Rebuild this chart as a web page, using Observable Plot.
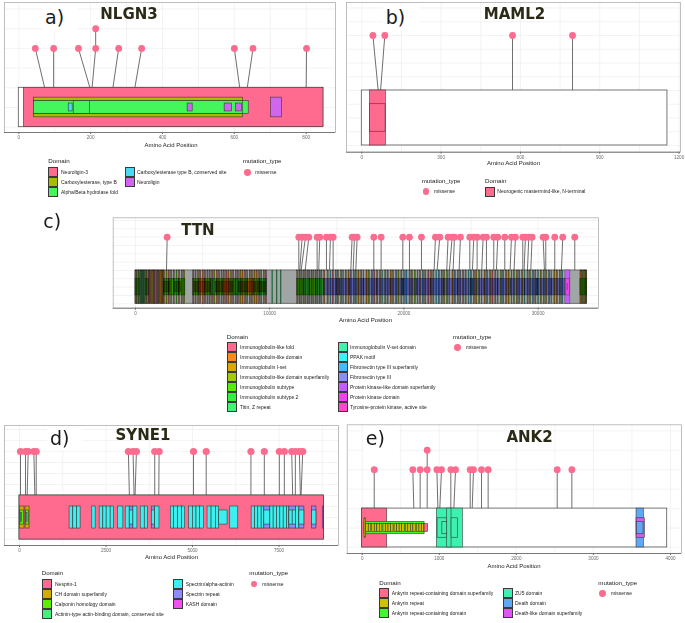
<!DOCTYPE html>
<html><head><meta charset="utf-8">
<script src="https://cdn.jsdelivr.net/npm/d3@7"></script>
<script src="https://cdn.jsdelivr.net/npm/@observablehq/plot@0.6"></script>
<style>
body{margin:0;background:#fff;}
#page{position:relative;width:685px;height:623px;overflow:hidden;background:#fff;font-family:"Liberation Sans",Arial,sans-serif;}
.t{position:absolute;white-space:nowrap;line-height:1;color:#222;}
.sw{position:absolute;width:8px;height:8px;border:1px solid #3a3a3a;}
.pt{position:absolute;border-radius:50%;}
</style></head><body><div id="page"></div>
<script>
// ---------------- DATA ----------------
// Panel a: NLGN3
const nlgLength = 848;
const nlgNames = ["Neuroligin-3","Carboxylesterase, type B","Alpha/Beta hydrolase fold","Carboxylesterase type B, conserved site","Neuroligin"];
const nlgColors = ["#ff6b8f","#a8bc00","#44f55c","#49d9f2","#d066f0"];
// [domain index, start, end, nesting level]
const nlgDomains = [[0,14,848,0],[1,42,624,1],[2,42,640,2],[2,42,624,2],[2,153,198,2],[3,139,150,3],[4,470,484,3],[4,573,594,3],[4,604,621,3],[4,702,733,1]];
const nlgPos   = [72, 97, 198, 204, 204, 262, 323, 615, 636, 800];
const nlgHead  = [46, 97, 166, 214, 214, 278, 342, 600, 652, 801];
const nlgStack = [0,0,0,0,1,0,0,0,0,0];
const nlgTicks = [0,200,400,600,800];

// Panel b: MAML2
const mamLength = 1156;
const mamNames = ["Neurogenic mastermind-like, N-terminal"];
const mamColors = ["#ff6b8f"];
const mamDomains = [[0,31,91,0],[0,31,90,1]];
const mamPos   = [62, 71, 570, 797];
const mamHead  = [42, 87, 570, 797];
const mamStack = [0,0,0,0];
const mamTicks = [0,300,600,900,1200];

// Panel c: TTN
const ttnLength = 33650;
const ttnNames = ["Immunoglobulin-like fold","Immunoglobulin-like domain","Immunoglobulin I-set","Immunoglobulin-like domain superfamily","Immunoglobulin subtype","Immunoglobulin subtype 2","Titin, Z repeat","Immunoglobulin V-set domain","PPAK motif","Fibronectin type III superfamily","Fibronectin type III","Protein kinase-like domain superfamily","Protein kinase domain","Tyrosine-protein kinase, active site"];
const ttnColors = ["#ff6b8f","#ff8c1a","#d8aa00","#a2cc00","#55ee00","#33f040","#44f27a","#3df2aa","#3df0f5","#40beff","#8c8cff","#c45cff","#ee44ee","#ff48c8"];
const ttnDomains = [
[3,0,110,0],[1,120,240,0],[4,250,365,0],
[6,378,420,0],[6,428,470,0],[6,478,520,0],[6,528,570,0],[6,578,620,0],[6,628,670,0],[6,678,740,0],
[2,752,860,0],[1,868,990,0],
[0,1000,1085,0],[1,1095,1175,0],[0,1190,1265,0],[2,1290,1370,0],[0,1385,1460,0],[1,1475,1560,0],[0,1580,1650,0],[3,1665,1745,0],[0,1770,1840,0],[1,1860,1940,0],[0,1955,2030,0],[2,2040,2105,0],
[1,2130,2200,0],[3,2310,2385,0],[0,2470,2550,0],[2,2660,2735,0],[1,2840,2925,0],[4,3060,3130,0],[0,3240,3320,0],[1,3440,3525,0],[3,3610,3700,0],
[4,0,365,1],[4,760,990,1],[5,2110,2480,1],[4,2480,2850,1],[5,2850,3240,1],[4,3240,3720,1],[2,2120,2600,2],[2,2900,3400,2],
[0,4300,4385,0],[1,4470,4550,0],[2,4660,4735,0],[0,4810,4895,0],[1,5010,5085,0],[0,5170,5250,0],[2,5360,5440,0],[1,5520,5600,0],[0,5710,5790,0],[3,5870,5950,0],[1,6060,6140,0],[0,6220,6300,0],[2,6410,6490,0],[1,6570,6650,0],[0,6760,6840,0],[1,6920,7000,0],[2,7110,7190,0],[0,7270,7350,0],[1,7460,7540,0],[0,7620,7700,0],[2,7810,7890,0],[1,7970,8050,0],[0,8160,8240,0],[3,8320,8400,0],[1,8510,8590,0],[0,8670,8750,0],[2,8860,8940,0],[1,9020,9100,0],[0,9210,9290,0],[2,9370,9450,0],[1,9560,9640,0],[0,9710,9800,0],
[4,4300,4750,1],[2,4750,5200,1],[4,5200,5650,1],[5,5650,6100,1],[4,6100,6550,1],[2,6550,7000,1],[4,7000,7450,1],[5,7450,7900,1],[4,7900,8350,1],[2,8350,8800,1],[4,8800,9250,1],[5,9250,9800,1],
[1,4400,5600,2],[1,6000,7300,2],[1,7700,9000,2],[1,9100,9700,2],
[6,10200,10260,0],[6,10520,10580,0],[6,10820,10880,0],
[1,12050,12130,0],[0,12210,12285,0],[3,12350,12430,0],[2,12510,12585,0],[1,12650,12730,0],[4,12810,12885,0],[0,12950,13030,0],[1,13110,13185,0],[3,13250,13330,0],[2,13410,13485,0],[1,13550,13630,0],[0,13710,13785,0],[4,13850,13930,0],
[4,12050,12520,1],[5,12520,12990,1],[4,12990,13460,1],[5,13460,14020,1],
[10,14030,15000,1],[10,15000,16000,1],[10,16000,17000,1],[10,17000,18000,1],[10,18000,19000,1],[10,19000,20000,1],[10,20000,21000,1],[10,21000,22000,1],[10,22000,23000,1],[10,23000,24000,1],[10,24000,25000,1],[10,25000,26000,1],[10,26000,27000,1],[10,27000,28000,1],[10,28000,29000,1],[10,29000,30000,1],[10,30000,31000,1],[10,31000,32030,1],
[1,14060,14140,0],[2,14310,14390,0],[8,14530,14590,0],[0,14690,14770,0],[9,14920,15000,0],[1,15070,15150,0],[3,15320,15400,0],[8,15480,15540,0],[2,15660,15740,0],[1,15870,15950,0],[10,16040,16120,0],[9,16260,16340,0],[4,16410,16490,0],[1,16610,16690,0],[2,16820,16900,0],[8,16990,17050,0],[1,17210,17290,0],[3,17380,17460,0],[9,17610,17690,0],[0,17790,17870,0],[2,18010,18090,0],[1,18220,18300,0],[8,18390,18450,0],[4,18610,18690,0],[9,18780,18860,0],[1,19010,19090,0],[2,19190,19270,0],[10,19420,19500,0],[3,19590,19670,0],[1,19810,19890,0],[8,20010,20070,0],[9,20180,20260,0],[2,20420,20500,0],[1,20590,20670,0],[4,20810,20890,0],[8,21020,21080,0],[1,21190,21270,0],[9,21410,21490,0],[2,21590,21670,0],[0,21820,21900,0],[1,22010,22090,0],[3,22190,22270,0],[8,22420,22480,0],[9,22590,22670,0],[1,22810,22890,0],[2,22990,23070,0],[4,23210,23290,0],[8,23390,23450,0],[1,23620,23700,0],[9,23790,23870,0],[2,24010,24090,0],[10,24190,24270,0],[1,24410,24490,0],[3,24590,24670,0],[8,24820,24880,0],[9,24990,25070,0],[1,25210,25290,0],[2,25390,25470,0],[4,25610,25690,0],[8,25790,25850,0],[1,26010,26090,0],[9,26190,26270,0],[2,26420,26500,0],[0,26590,26670,0],[1,26810,26890,0],[8,26990,27050,0],[3,27220,27300,0],[9,27390,27470,0],[1,27610,27690,0],[2,27790,27870,0],[8,28020,28080,0],[4,28190,28270,0],[1,28410,28490,0],[9,28590,28670,0],[2,28810,28890,0],[8,28990,29050,0],[1,29210,29290,0],[3,29390,29470,0],[9,29610,29690,0],[1,29790,29870,0],[8,30010,30070,0],[2,30190,30270,0],[4,30410,30490,0],[1,30590,30670,0],[9,30810,30890,0],[8,30990,31050,0],[2,31210,31290,0],[1,31390,31470,0],[3,31610,31690,0],[9,31790,31870,0],
[7,15200,15260,1],[7,19900,19960,1],[7,25100,25160,1],[7,29900,29960,1],
[1,33150,33230,0],[4,33260,33340,0],[2,33370,33450,0],[1,33480,33560,0],[3,33570,33640,0],[4,33150,33640,1]
];
const ttnKinase = [[11,32031,32403,0],[12,32080,32350,1],[13,32190,32230,3]];
const ttnHead = [2359,12167,12417,12665,12914,13533,13731,14228,14526,14725,16141,16315,16514,17755,18301,19915,20412,21306,22349,22671,23291,23590,23763,24210,24906,25204,25452,25899,26147,26693,26991,27513,28010,28308,28855,29053,29302,29550,30369,30568,31238,31834,32728];
const ttnPos  = [2309,12167,12240,12340,12640,13533,13650,14228,14450,14725,16041,16215,16414,17755,18301,19915,20412,21306,22249,22471,23191,23390,23663,24110,24906,25104,25452,25799,26147,26693,26891,27513,27910,28208,28855,28953,29202,29450,30469,30568,31238,31734,32728];
const ttnStack = ttnHead.map(() => 0);
const ttnTicks = [0,10000,20000,30000];

// Panel d: SYNE1
const syneLength = 8797;
const syneNames = ["Nesprin-1","CH domain superfamily","Calponin homology domain","Actinin-type actin-binding domain, conserved site","Spectrin/alpha-actinin","Spectrin repeat","KASH domain"];
const syneColors = ["#ff6b8f","#d4aa00","#5cf000","#44f27a","#3df0f0","#8c8cff","#f050f0"];
const syneDomains = [
[0,0,8797,0],[1,10,145,1],[1,174,290,1],[2,25,135,2],[2,185,280,2],[3,40,70,3],[3,200,230,3],
[4,1448,1554,1],[4,1554,1660,1],[4,1660,1767,1],[4,2104,2201,1],
[4,2317,2423,1],[4,2423,2519,1],[4,2519,2635,1],[4,2635,2732,1],[4,2848,3002,1],
[4,3070,3186,1],[5,3186,3292,1],[4,3186,3292,2],[4,3292,3408,1],
[4,3504,3620,1],[4,3620,3716,1],[5,3823,3919,1],[4,3823,3919,2],[4,3919,4045,1],
[4,4373,4470,1],[4,4470,4585,1],[4,4585,4701,1],[4,4701,4788,1],
[4,4904,5010,1],[4,5010,5116,1],[4,5116,5222,1],[4,5222,5338,1],
[4,5435,5551,1],[4,5551,5676,1],[4,5676,5773,1],[4,5773,6014,2],[4,6091,6323,1],
[4,6709,6806,1],[4,6806,6902,1],[4,6902,6999,1],[4,6999,7076,1],[5,7076,7250,1],[4,7076,7250,2],
[4,7250,7346,1],[4,7346,7443,1],[4,7443,7539,1],[4,7539,7636,1],[4,7636,7732,1],[4,7732,7800,1],
[5,7800,7993,1],[4,7800,7896,2],[4,7896,7993,2],[4,7993,8089,1],[5,8089,8234,1],[4,8089,8234,2],
[5,8456,8582,1],[4,8456,8582,2],[6,8765,8797,1]
];
const synePos  = [29,174,222,444,483,3176,3311,3340,3909,4026,5029,5396,6689,7076,7510,7655,7896,7973,8118,8138];
const syneHead = [29,174,251,415,483,3147,3282,3379,3909,4035,5029,5396,6689,7076,7510,7655,7867,7973,8089,8186];
const syneStack = syneHead.map(() => 0);
const syneTicks = [0,2500,5000,7500];

// Panel e: ANK2
const ankLength = 3957;
const ankNames = ["Ankyrin repeat-containing domain superfamily","Ankyrin repeat","Ankyrin repeat-containing domain","ZU5 domain","Death domain","Death-like domain superfamily"];
const ankColors = ["#ff6b8f","#cfc000","#44f530","#3df2b0","#5fa8f5","#dd55f2"];
const ankDomains = [
[0,0,324,0],[2,30,809,2],[1,30,50,1],
[1,52,85,3],[1,85,118,3],[1,130,163,3],[1,163,196,3],[1,196,229,3],[1,229,262,3],[1,275,308,3],[1,308,341,3],[1,341,374,3],[1,374,407,3],[1,420,453,3],[1,453,486,3],[1,486,519,3],[1,519,552,3],[1,565,598,3],[1,598,631,3],[1,631,664,3],[1,664,697,3],[1,710,743,3],[1,743,776,3],[1,776,805,3],
[0,809,856,3],
[3,969,1306,0],[3,1103,1159,0],[3,978,1103,1],[3,1040,1103,2],[3,1159,1245,1],
[4,3559,3654,0],[5,3559,3667,1],[4,3565,3650,2]
];
const ankPos   = [156,670,752,843,843,982,1007,1150,1189,1401,1427,1548,1634,2530,2720];
const ankHead  = [156,657,752,843,843,969,1029,1150,1211,1401,1444,1548,1634,2530,2720];
const ankStack = [0,0,0,0,1,0,0,0,0,0,0,0,0,0,0];
const ankTicks = [0,1000,2000,3000,4000];

// ---------------- DRAWING ----------------
const page = document.getElementById("page");
const HEAD = "#fd6b8e";
const LEVELS = [[0,2],[0.5,1.5],[0.68,1.32],[0.8,1.2]];
const FONT = "Liberation Sans, Arial, sans-serif";

function rng(a, b, s) { const o = []; for (let v = a; v <= b + 1e-9; v += s) o.push(+v.toFixed(3)); return o; }

function panel(cfg) {
  const muts = cfg.pos.map((p, i) => ({pos: p, head: cfg.head[i], stack: cfg.stack[i]}));
  const rects = (data, blend) => Plot.rect(data, {
    x1: d => d[1], x2: d => d[2],
    y1: d => LEVELS[d[3]][0], y2: d => LEVELS[d[3]][1],
    fill: d => cfg.names[d[0]],
    stroke: "#2e2e2e", strokeWidth: cfg.sw || 0.6, strokeOpacity: 0.9,
    mixBlendMode: blend
  });
  const marks = [
    Plot.gridX({ticks: cfg.gridX, stroke: "#ebebeb", strokeOpacity: 1, strokeWidth: 0.6}),
    Plot.gridY({ticks: cfg.gridY, stroke: "#ebebeb", strokeOpacity: 1, strokeWidth: 0.6}),
    Plot.frame({stroke: "#b0b0b0", strokeWidth: 0.8}),
    Plot.link(muts.filter(d => d.stack === 0), {x1: "pos", y1: () => 2, x2: "head", y2: () => 4, stroke: "#4a4a4a", strokeWidth: 0.8}),
    Plot.link(muts.filter(d => d.stack === 1), {x1: "head", y1: () => 4, x2: "head", y2: () => 5, stroke: "#4a4a4a", strokeWidth: 0.8}),
    Plot.rect([cfg.len], {x1: () => 0, x2: d => d, y1: () => 0, y2: () => 2, fill: cfg.back, stroke: "#555", strokeWidth: 0.8}),
    rects(cfg.domains, cfg.blend || "normal")
  ];
  if (cfg.extra) marks.push(rects(cfg.extra, "normal"));
  marks.push(
    Plot.dot(muts, {x: "head", y: d => 4 + d.stack, r: cfg.r || 3.4, fill: HEAD, stroke: "none"}),
    Plot.ruleY([cfg.yDomain[0]], {stroke: "#707070", strokeWidth: 0.9}),
    Plot.axisX({ticks: cfg.ticks, tickFormat: "d", tickSize: 2, tickPadding: 1.2, fontSize: 4.6, color: "#6b6b6b", label: null})
  );
  const svg = Plot.plot({
    width: cfg.w, height: cfg.h,
    marginLeft: cfg.m[0], marginRight: cfg.m[1], marginTop: cfg.m[2], marginBottom: cfg.m[3],
    x: {domain: cfg.xDomain},
    y: {domain: cfg.yDomain, axis: null},
    color: {domain: cfg.names, range: cfg.colors},
    style: {background: "transparent", fontFamily: FONT, overflow: "visible", maxWidth: "none"},
    marks
  });
  svg.style.position = "absolute";
  svg.style.left = cfg.left + "px";
  svg.style.top = cfg.top + "px";
  page.appendChild(svg);
}

function txt(x, cy, s, size, o = {}) {
  const d = document.createElement("div");
  d.className = "t";
  d.textContent = s;
  d.style.fontSize = size + "px";
  d.style.left = x + "px";
  if (o.baseline) d.style.top = (cy - 0.846 * size) + "px";
  else d.style.top = (cy - size / 2) + "px";
  if (o.center) d.style.transform = "translateX(-50%)";
  if (o.family) d.style.fontFamily = o.family;
  if (o.weight) d.style.fontWeight = o.weight;
  if (o.color) d.style.color = o.color;
  if (o.bg) { d.style.background = o.bg; d.style.padding = "3px 14px 3px 3px"; d.style.marginLeft = "-3px"; d.style.marginTop = "-3px"; }
  page.appendChild(d);
}
function swatch(x, cy, color) {
  const d = document.createElement("div");
  d.className = "sw";
  d.style.left = x + "px"; d.style.top = (cy - 5) + "px"; d.style.background = color;
  page.appendChild(d);
}
function point(cx, cy) {
  const d = document.createElement("div");
  d.className = "pt";
  d.style.left = (cx - 3.4) + "px"; d.style.top = (cy - 3.4) + "px";
  d.style.width = "6.8px"; d.style.height = "6.8px"; d.style.background = HEAD;
  page.appendChild(d);
}
function legendCols(names, colors, cols, y0) {
  let k = 0;
  cols.forEach(c => {
    for (let j = 0; j < c.n; j++, k++) {
      swatch(c.sx, y0 + 10 * j, colors[k]);
      txt(c.lx, y0 + 10 * j, names[k], 5);
    }
  });
}
function mutLegend(x, ty, px, py, lx) {
  txt(x, ty, "mutation_type", 6.2, {color: "#1a1a1a"});
  point(px, py);
  txt(lx, py, "missense", 5);
}

// Panel a
panel({left: 0, top: 0, w: 340, h: 150, m: [4, 5, 2, 18], xDomain: [-39.8, 881.6], yDomain: [-0.27, 6.33],
  gridX: rng(0, 800, 100), gridY: rng(0, 6, 1), ticks: nlgTicks, len: nlgLength, back: "white",
  names: nlgNames, colors: nlgColors, domains: nlgDomains, pos: nlgPos, head: nlgHead, stack: nlgStack});
// Panel b
panel({left: 340, top: 0, w: 345, h: 170, m: [6, 5, 2, 18.3], xDomain: [-57.9, 1205.4], yDomain: [-0.244, 5.2],
  gridX: rng(0, 1200, 150), gridY: rng(0, 5, 0.5), ticks: mamTicks, len: mamLength, back: "white",
  names: mamNames, colors: mamColors, domains: mamDomains, pos: mamPos, head: mamHead, stack: mamStack});
// Panel c
panel({left: 110, top: 210, w: 495, h: 110, m: [2.7, 7, 7.3, 12.3], xDomain: [-1661, 34496], yDomain: [-0.264, 5.16],
  gridX: rng(0, 30000, 5000), gridY: rng(0, 5, 0.5), ticks: ttnTicks, len: ttnLength, back: "#a0a5a5",
  names: ttnNames, colors: ttnColors, domains: ttnDomains, extra: ttnKinase, blend: "multiply", sw: 0.38,
  pos: ttnPos, head: ttnHead, stack: ttnStack});
// Panel d
panel({left: 0, top: 420, w: 340, h: 140, m: [4, 2, 5, 15], xDomain: [-433.5, 9220], yDomain: [-0.27, 5.18],
  gridX: rng(0, 8750, 1250), gridY: rng(0, 5, 0.5), ticks: syneTicks, len: syneLength, back: "white", r: 3.6,
  names: syneNames, colors: syneColors, domains: syneDomains, pos: synePos, head: syneHead, stack: syneStack});
// Panel e
panel({left: 345, top: 420, w: 340, h: 145, m: [1.7, 4, 4.3, 12], xDomain: [-194.6, 4142.5], yDomain: [-0.31, 6.31],
  gridX: rng(0, 4000, 500), gridY: rng(0, 6, 1), ticks: ankTicks, len: ankLength, back: "white",
  names: ankNames, colors: ankColors, domains: ankDomains, pos: ankPos, head: ankHead, stack: ankStack});

// Panel letters and titles
const TF = "DejaVu Sans, sans-serif";
txt(45, 24, "a)", 19, {baseline: true, family: TF, bg: "#fff", color: "#1a1a1a"});
txt(385.7, 24, "b)", 19, {baseline: true, family: TF, bg: "#fff", color: "#1a1a1a"});
txt(43.3, 228.3, "c)", 19, {baseline: true, family: TF, color: "#1a1a1a"});
txt(50, 445, "d)", 19, {baseline: true, family: TF, bg: "#fff", color: "#1a1a1a"});
txt(365.7, 445, "e)", 19, {baseline: true, family: TF, bg: "#fff", color: "#1a1a1a"});
const TC = "#2b2a17";
txt(129, 20, "NLGN3", 15, {baseline: true, center: true, family: TF, weight: "bold", color: TC});
txt(514.5, 20, "MAML2", 15, {baseline: true, center: true, family: TF, weight: "bold", color: TC});
txt(198, 236, "TTN", 15, {baseline: true, center: true, family: TF, weight: "bold", color: TC});
txt(143, 440.7, "SYNE1", 15, {baseline: true, center: true, family: TF, weight: "bold", color: TC});
txt(529.5, 442.7, "ANK2", 15, {baseline: true, center: true, family: TF, weight: "bold", color: TC});

// Axis titles
const AX = "Amino Acid Position";
txt(171, 144.7, AX, 6, {center: true});
txt(513.5, 163.3, AX, 6, {center: true});
txt(365.5, 320, AX, 6, {center: true});
txt(171.5, 556.7, AX, 6, {center: true});
txt(514, 565.7, AX, 6, {center: true});

// Legends
txt(48.3, 161, "Domain", 6.2, {color: "#1a1a1a"});
legendCols(nlgNames, nlgColors, [{sx: 48.3, lx: 61, n: 3}, {sx: 125, lx: 137, n: 2}], 172.3);
mutLegend(242.7, 161, 247.3, 172.3, 255.3);

mutLegend(421.7, 180.7, 426, 191.7, 434);
txt(485, 180.7, "Domain", 6.2, {color: "#1a1a1a"});
legendCols(mamNames, mamColors, [{sx: 485, lx: 497.3, n: 1}], 191.7);

txt(226.7, 336.7, "Domain", 6.2, {color: "#1a1a1a"});
legendCols(ttnNames, ttnColors, [{sx: 226.7, lx: 240, n: 7}, {sx: 337.7, lx: 350, n: 7}], 347.3);
mutLegend(452.7, 336.7, 457.7, 347.3, 466);

txt(41.7, 573.3, "Domain", 6.2, {color: "#1a1a1a"});
legendCols(syneNames, syneColors, [{sx: 41.7, lx: 55, n: 4}, {sx: 173.3, lx: 185.7, n: 3}], 584);
mutLegend(249.3, 573.3, 254, 584, 262.3);

txt(379.3, 582.7, "Domain", 6.2, {color: "#1a1a1a"});
legendCols(ankNames, ankColors, [{sx: 379.3, lx: 391.7, n: 3}, {sx: 502.7, lx: 515, n: 3}], 593.3);
mutLegend(598.3, 582.7, 602.7, 593.3, 611);
</script></body></html>
